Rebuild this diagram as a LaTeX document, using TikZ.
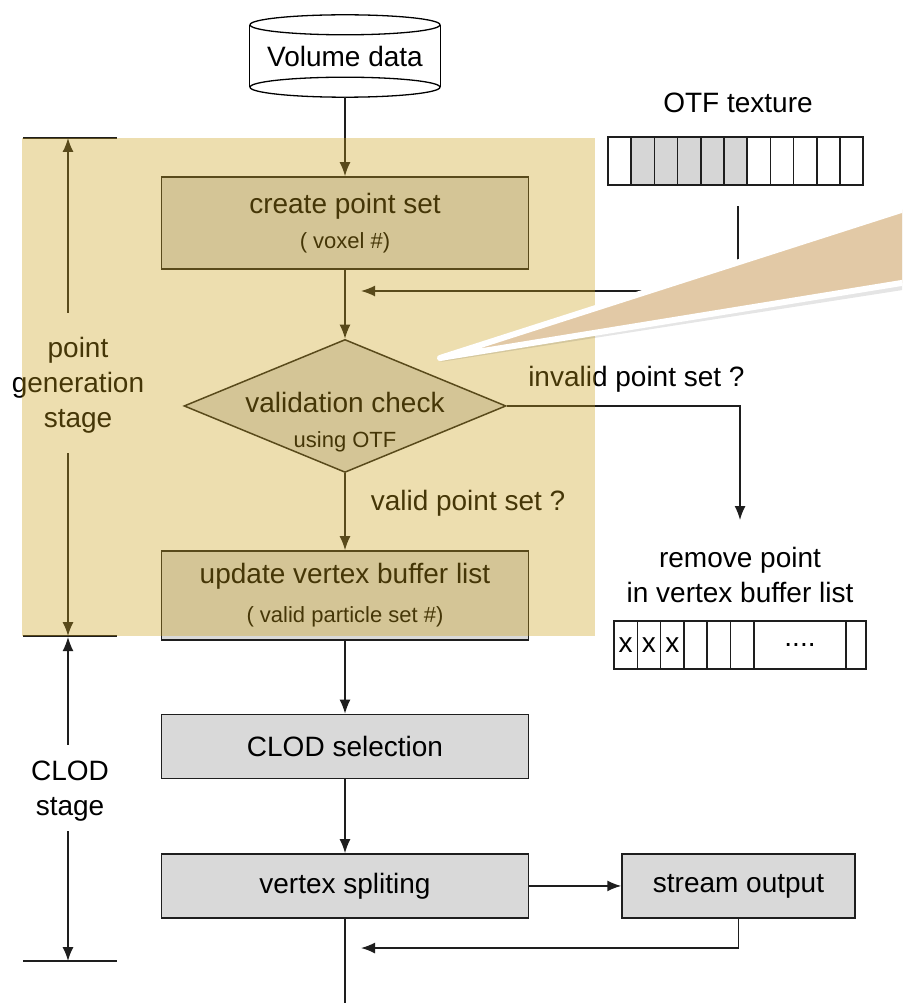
\documentclass[tikz,border=0pt]{standalone}
\usepackage{fontspec}
\setmainfont{Liberation Sans}
\usetikzlibrary{positioning,shapes.geometric,arrows.meta}

\newcommand{\bigtxt}{\fontsize{28}{35}\selectfont}
\newcommand{\smalltxt}{\fontsize{22}{30}\selectfont}

\definecolor{linegray}{RGB}{30,30,30}
\definecolor{boxgray}{RGB}{217,217,217}
\definecolor{cellgray}{RGB}{214,214,214}
\definecolor{stagetint}{RGB}{205,161,23}
\definecolor{callout}{RGB}{226,201,166}

\tikzset{
 procbox/.style={rectangle, draw=linegray, line width=1.5pt, fill=boxgray, minimum width=367pt, align=center, font=\bigtxt},
 decision/.style={diamond, draw=linegray, line width=1.5pt, fill=boxgray, minimum width=322pt, minimum height=133pt, inner sep=0pt},
 arrow/.style={-{Latex[length=14pt,width=11pt]}, line width=1.5pt, draw=linegray},
 lbl/.style={inner sep=0pt, font=\bigtxt, align=center},
 cell/.style={draw=linegray, line width=1.5pt, minimum width=23.2pt, minimum height=48pt, inner sep=0pt, font=\bigtxt},
 tick/.style={line width=1.5pt, draw=linegray}
}

\begin{document}
\begin{tikzpicture}[x=1pt, y=-1pt]
\useasboundingbox (0,0) rectangle (902,1003);
\fill[white] (0,0) rectangle (902,1003);

% volume data drum
\node[lbl, minimum width=190pt, minimum height=82pt] (vol) at (345,56) {Volume data};
\draw[line width=1.3pt] ([yshift=-10pt]vol.north west) -- ([yshift=10pt]vol.south west)
  ([yshift=-10pt]vol.north east) -- ([yshift=10pt]vol.south east);
\draw[line width=1.3pt] ([yshift=-10pt]vol.north) ellipse [x radius=95pt, y radius=10pt]
  ([yshift=10pt]vol.south) ellipse [x radius=95pt, y radius=10pt];

% main flow
\node[procbox, minimum height=92pt] (create) [below=79pt of vol] {create point set\\{\smalltxt ( voxel \#)}};
\node[decision] (check) [below=69pt of create] {};
\node[lbl] (checktxt) at ([yshift=-16pt]check.center) {validation check\\{\smalltxt using OTF}};
\node[procbox, minimum height=89pt] (update) [below=77pt of check] {update vertex buffer list\\[4pt]{\smalltxt ( valid particle set \#)}};
\node[procbox, minimum height=64pt] (clod) [below=73pt of update] {CLOD selection};
\node[procbox, minimum height=64pt] (split) [below=74pt of clod] {vertex spliting};
\node[procbox, minimum width=233pt, minimum height=64pt] (stream) [right=92pt of split] {stream output};

% OTF texture
\node[lbl] (otflabel) at (738,103) {OTF texture};
\foreach \i [evaluate=\i as \tone using {int((\i>1)*(\i<7)*100)}] in {1,...,11}
  \node[cell, fill=cellgray!\tone!white] (otf\i) at ({619.6+(\i-1)*23.2},161) {};

% removed points
\node[lbl] (remove) at (740,575) {remove point\\in vertex buffer list};
\foreach \i/\t in {1/x,2/x,3/x,4/{},5/{},6/{}}
  \node[cell, minimum width=23.3pt] (buf\i) at ({625.65+(\i-1)*23.3},645) {\t};
\node[cell, minimum width=92pt] (bufdots) at (800,645) {\raisebox{-3pt}{....}};
\node[cell, minimum width=20pt] (buflast) at (856,645) {};

% connectors
\coordinate (otfout) at (738,206);
\coordinate (mergeA) at (361,291);
\coordinate (rmtop) at (740,520);
\coordinate (mergeB) at (361,948);
\coordinate (exitpt) at (345,1010);
\draw[arrow] (vol.south) -- (create.north);
\draw[arrow] (create.south) -- (check.north);
\draw[arrow] (otfout) |- (mergeA);
\draw[arrow] (check.east) -| node[lbl, above=13pt, pos=0.278] (invalidlbl) {invalid point set ?} (rmtop);
\draw[arrow] (check.south) -- node[lbl, right=25pt, pos=0.39] (validlbl) {valid point set ?} (update.north);
\draw[arrow] (update.south) -- (clod.north);
\draw[arrow] (clod.south) -- (split.north);
\draw[arrow] (split.east) -- (stream.west);
\draw[arrow] (stream.south) |- (mergeB);
\draw[line width=1.5pt, draw=linegray] (split.south) -- (exitpt);

% stages
\node[lbl] (pgstage) at (78,385) {point\\generation\\stage};
\node[lbl] (clstage) at (70,791) {CLOD\\stage};
\coordinate (pgtop) at (68,138);
\coordinate (pgbot) at (68,636);
\coordinate (cltop) at (68,637);
\coordinate (clbot) at (68,961);
\coordinate (pgup) at ([yshift=24pt]pgstage.north);
\coordinate (pgdown) at ([yshift=-20pt]pgstage.south);
\coordinate (clup) at ([yshift=16pt]clstage.north);
\coordinate (cldown) at ([yshift=-10pt]clstage.south);
\draw[arrow] (pgup -| pgtop) -- (pgtop);
\draw[arrow] (pgdown -| pgbot) -- (pgbot);
\draw[arrow] (clup -| cltop) -- (cltop);
\draw[arrow] (cldown -| clbot) -- (clbot);
\draw[tick] ([xshift=-45pt]pgtop) -- ([xshift=49pt]pgtop);
\draw[tick] ([xshift=-45pt]pgbot) -- ([xshift=49pt]pgbot);
\draw[tick] ([xshift=-45pt]clbot) -- ([xshift=49pt]clbot);

% stage tint
\fill[stagetint, opacity=0.34] (22,138) rectangle (595,636);

% callout
\begin{scope}
\clip (0,0) rectangle (902,1003);
\fill[black, opacity=0.1] (440,362) -- (922,206) -- (922,287) -- cycle;
\filldraw[fill=callout, draw=white, line width=6pt, line join=round] (440,358) -- (920,204) -- (920,280) -- cycle;
\end{scope}
\end{tikzpicture}
\end{document}
